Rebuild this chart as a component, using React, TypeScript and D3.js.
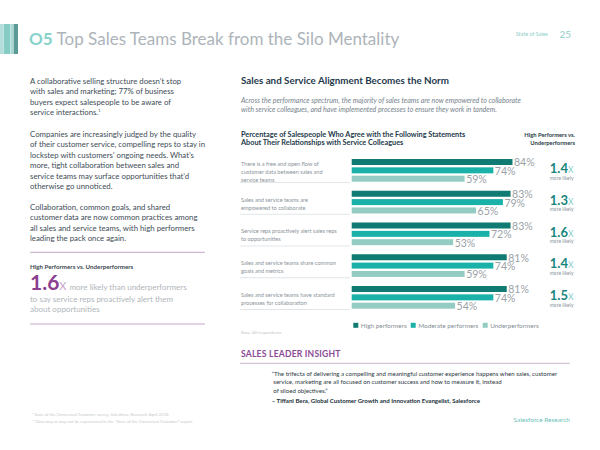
import React from "react";
import * as d3 from "d3";

// ---------- data ----------
const categoryLabels: string[][] = [
  ["There is a free and open flow of", "customer data between sales and", "service teams"],
  ["Sales and service teams are", "empowered to collaborate"],
  ["Service reps proactively alert sales reps", "to opportunities"],
  ["Sales and service teams share common", "goals and metrics"],
  ["Sales and service teams have standard", "processes for collaboration"],
];
const seriesNames = ["High performers", "Moderate performers", "Underperformers"];
const highPerformers = [84, 83, 83, 81, 81];
const moderatePerformers = [74, 79, 72, 74, 74];
const underperformers = [59, 65, 53, 59, 54];
const multipliers = ["1.4", "1.3", "1.6", "1.4", "1.5"];

const leftParagraphs: string[][] = [
  [
    "A collaborative selling structure doesn\u2019t stop",
    "with sales and marketing; 77% of business",
    "buyers expect salespeople to be aware of",
    "service interactions.",
  ],
  [
    "Companies are increasingly judged by the quality",
    "of their customer service, compelling reps to stay in",
    "lockstep with customers\u2019 ongoing needs. What\u2019s",
    "more, tight collaboration between sales and",
    "service teams may surface opportunities that\u2019d",
    "otherwise go unnoticed.",
  ],
  [
    "Collaboration, common goals, and shared",
    "customer data are now common practices among",
    "all sales and service teams, with high performers",
    "leading the pack once again.",
  ],
];
const subtitleLines = [
  "Across the performance spectrum, the majority of sales teams are now empowered to collaborate",
  "with service colleagues, and have implemented processes to ensure they work in tandem.",
];
const chartTitleLines = [
  "Percentage of Salespeople Who Agree with the Following Statements",
  "About Their Relationships with Service Colleagues",
];
const quoteLines = [
  "\u201CThe trifecta of delivering a compelling and meaningful customer experience happens when sales, customer",
  " service, marketing are all focused on customer success and how to measure it, instead",
  " of siloed objectives.\u201D",
];

const FONT = "Lato, 'Open Sans', sans-serif";
const COLORS = ["#0f7b72", "#1ab2a8", "#94ccc4"];

export default function App() {
  const series = [highPerformers, moderatePerformers, underperformers];

  const x = d3.scaleLinear().domain([0, 100]).range([351.7, 543.1]);
  const yGroup = d3
    .scaleBand<number>()
    .domain(d3.range(categoryLabels.length))
    .range([159, 159 + 31.75 * categoryLabels.length])
    .padding(0);
  const yBar = d3
    .scaleBand<number>()
    .domain(d3.range(seriesNames.length))
    .range([0, 22.7])
    .paddingInner(0.28)
    .paddingOuter(0);

  const legendX = [353.3, 410.7, 482.7];

  return (
    <svg
      width={600}
      height={450}
      style={{ position: "absolute", left: 0, top: 0, background: "#fff" }}
      fontFamily={FONT}
    >
      {/* header stripes */}
      <rect x={0} y={24} width={3} height={30} fill="#b4dedb" />
      <rect x={3.5} y={24} width={7} height={30} fill="#86cbc6" />
      <rect x={11} y={24} width={2} height={30} fill="#a9d9d5" />
      <rect x={13.5} y={24} width={4.5} height={30} fill="#5a9b98" />

      <text x={29} y={45} fontSize={17}>
        <tspan fill="#86d2cd" fontWeight={700}>O5</tspan>
        <tspan fill="#adb4ba" dx={4}>Top Sales Teams Break from the Silo Mentality</tspan>
      </text>
      <text x={548} y={36} fontSize={5.5} fill="#8fcfca" textAnchor="end">State of Sales</text>
      <text x={571} y={37.5} fontSize={10} fill="#8fcfca" textAnchor="end">25</text>

      {/* left column */}
      {leftParagraphs.map((p, pi) =>
        p.map((line, li) => (
          <text
            key={`p${pi}-${li}`}
            x={30}
            y={[83.5, 136.5, 209.5][pi] + li * 10.5}
            fontSize={7.8}
            fill="#3e4c57"
          >
            {line}
            {pi === 0 && li === 3 ? (
              <tspan fontSize={4} dy={-3}>1</tspan>
            ) : null}
          </text>
        ))
      )}
      <line x1={30} x2={205} y1={252.3} y2={252.3} stroke="#b58fbc" strokeWidth={0.8} />
      <text x={30} y={269} fontSize={6.2} fontWeight={700} fill="#3c4852">
        High Performers vs. Underperformers
      </text>
      <text x={30} y={290} fill="#8b3f90">
        <tspan fontSize={21} fontWeight={700}>1.6</tspan>
        <tspan fontSize={11} fill="#c7a2cc">X</tspan>
        <tspan fontSize={8} fill="#b0b6bb" dx={3}>more likely than underperformers</tspan>
      </text>
      <text x={30} y={301.5} fontSize={8} fill="#b0b6bb">to say service reps proactively alert them</text>
      <text x={30} y={311.5} fontSize={8} fill="#b0b6bb">about opportunities</text>
      <line x1={30} x2={205} y1={324} y2={324} stroke="#b58fbc" strokeWidth={0.8} />

      {/* right column header */}
      <text x={241} y={83.5} fontSize={9.8} fontWeight={700} fill="#1f3a4d">
        Sales and Service Alignment Becomes the Norm
      </text>
      {subtitleLines.map((l, i) => (
        <text key={l} x={241} y={103.2 + i * 8.6} fontSize={7} fontStyle="italic" fill="#76838d">
          {l}
        </text>
      ))}
      {chartTitleLines.map((l, i) => (
        <text key={l} x={241} y={136.5 + i * 8.7} fontSize={7.3} fontWeight={700} fill="#23394a">
          {l}
        </text>
      ))}
      <text x={575} y={137} fontSize={5.8} fontWeight={700} fill="#2a3b48" textAnchor="end">
        High Performers vs.
      </text>
      <text x={575} y={145} fontSize={5.8} fontWeight={700} fill="#2a3b48" textAnchor="end">
        Underperformers
      </text>

      {/* groups */}
      {categoryLabels.map((lines, gi) => {
        const top = yGroup(gi)!;
        const mid = top + 11.35;
        const n = lines.length;
        return (
          <g key={gi}>
            {lines.map((l, li) => (
              <text
                key={li}
                x={241}
                y={mid + 1.5 + (li - (n - 1) / 2) * 7.9}
                dy="0.35em"
                fontSize={5.6}
                fill="#8b949b"
              >
                {l}
              </text>
            ))}
            <line x1={240} x2={350} y1={top + 23.5} y2={top + 23.5} stroke="#d6dbde" strokeWidth={0.7} />
            {series.map((s, si) => {
              const by = top + yBar(si)!;
              const bh = yBar.bandwidth();
              return (
                <g key={si}>
                  <rect x={x(0)} y={by} width={x(s[gi]) - x(0)} height={bh} fill={COLORS[si]} />
                  <text
                    x={x(s[gi]) + 1.5}
                    y={by + bh / 2 + 0.8}
                    dy="0.35em"
                    fontSize={10.5}
                    fill="#9aa2a8"
                  >
                    {s[gi]}%
                  </text>
                </g>
              );
            })}
            <text x={573.5} y={top + 14} textAnchor="end">
              <tspan fontSize={13} fontWeight={700} fill="#17857c">{multipliers[gi]}</tspan>
              <tspan fontSize={8.5} fill="#86cdc6">X</tspan>
            </text>
            <text x={573.5} y={top + 20.6} fontSize={5} fill="#8b949b" textAnchor="end">
              more likely
            </text>
          </g>
        );
      })}

      {/* legend */}
      {seriesNames.map((name, i) => (
        <g key={name}>
          <rect x={legendX[i]} y={322.8} width={5} height={5} fill={COLORS[i]} />
          <text x={legendX[i] + 7.5} y={325.3} dy="0.35em" fontSize={6.4} fill="#858e95">
            {name}
          </text>
        </g>
      ))}
      <text x={241} y={333.5} fontSize={4.3} fill="#c3c8cc">Base: All respondents</text>

      {/* sales leader insight */}
      <text x={241} y={356.5} fontSize={8.6} fontWeight={700} fill="#8b4a95" letterSpacing={0.2}>
        SALES LEADER INSIGHT
      </text>
      <line x1={240} x2={570} y1={363.3} y2={363.3} stroke="#c3a2c8" strokeWidth={0.8} />
      {quoteLines.map((l, i) => (
        <text key={i} x={271.7} y={375.5 + i * 8.8} fontSize={6.1} fill="#2c3944" style={{ whiteSpace: "pre" }}>
          {l}
        </text>
      ))}
      <text x={271.7} y={402.5} fontSize={6.1} fontWeight={700} fill="#22303a">
        {"\u2013 Tiffani Bera, Global Customer Growth and Innovation Evangelist, Salesforce"}
      </text>
      <text x={570} y={422} fontSize={6.5} fill="#6cbfb9" textAnchor="end">Salesforce Research</text>

      {/* footnotes */}
      <text x={31.7} y={415.8} fontSize={4.2} fill="#c6cacd">
        {"\u00B9 State of the Connected Customer survey, Salesforce Research, April 2018."}
      </text>
      <text x={33} y={422.5} fontSize={4.2} fill="#c6cacd">
        {"\u00B2 Data may or may not be represented in the \u201CState of the Connected Customer\u201D report."}
      </text>
    </svg>
  );
}
